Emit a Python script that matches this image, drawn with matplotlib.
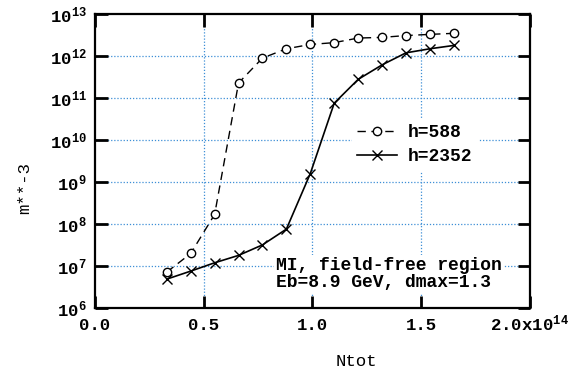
import matplotlib
matplotlib.use('Agg')
import matplotlib.pyplot as plt
from matplotlib.ticker import FixedLocator

# ---- data ----
ntot = [0.33, 0.44, 0.55, 0.66, 0.77, 0.88, 0.99, 1.10, 1.21, 1.32, 1.43, 1.54, 1.65]   # x 1e14
h588 = [7.2e6, 2.0e7, 1.7e8, 2.3e11, 9.0e11, 1.5e12, 1.9e12, 2.1e12, 2.7e12, 2.8e12, 3.1e12, 3.3e12, 3.5e12]
h2352 = [4.9e6, 7.6e6, 1.2e7, 1.8e7, 3.2e7, 7.6e7, 1.6e9, 7.6e10, 2.8e11, 6.2e11, 1.2e12, 1.5e12, 1.8e12]

xticks = [0.0, 0.5, 1.0, 1.5, 2.0]
xticklabels = ['0.0', '0.5', '1.0', '1.5', r'2.0x10$^{14}$']
ydec = [6, 7, 8, 9, 10, 11, 12, 13]

plt.rcParams['font.family'] = ['Liberation Mono', 'DejaVu Sans Mono']
plt.rcParams['font.weight'] = 'bold'
plt.rcParams['mathtext.fontset'] = 'custom'
plt.rcParams['mathtext.rm'] = 'Liberation Mono:bold'
plt.rcParams['mathtext.it'] = 'Liberation Mono:bold'

fig = plt.figure(figsize=(5.76, 3.73), dpi=100)
ax = fig.add_axes([0.165, 0.174, 0.755, 0.788])

gridc = '#3d8fd6'
for x in xticks[1:-1]:
    ax.axvline(x, color=gridc, lw=0.9, ls=(0, (1, 1.5)), zorder=0)
for d in ydec[1:-1]:
    ax.axhline(10.0**d, color=gridc, lw=0.9, ls=(0, (1, 1.5)), zorder=0)

ax.plot(ntot, h588, color='black', lw=1.0, ls=(0, (6, 4)), marker='o', ms=6,
        mfc='white', mec='black', mew=1.0, label='h=588', zorder=3)
ax.plot(ntot, h2352, color='black', lw=1.2, marker='x', ms=7, mew=1.0,
        label='h=2352', zorder=3)

ax.set_yscale('log')
ax.set_xlim(0, 2.0)
ax.set_ylim(1e6, 1e13)
ax.xaxis.set_major_locator(FixedLocator(xticks))
ax.set_xticklabels(xticklabels)
ax.yaxis.set_major_locator(FixedLocator([10.0**d for d in ydec]))
ax.set_yticklabels(['10$^{%d}$' % d for d in ydec])
ax.yaxis.set_minor_locator(FixedLocator([]))
ax.tick_params(which='major', direction='in', length=9, width=2.0,
               top=True, right=True, labelsize=12.5, pad=6)
ax.tick_params(axis='x', pad=16)
for lab in ax.get_xticklabels():
    lab.set_verticalalignment('baseline')
for s in ax.spines.values():
    s.set_linewidth(1.6)

ax.set_xlabel('Ntot', fontsize=12.5)
ax.xaxis.set_label_coords(0.6, -0.155)
ax.set_ylabel('m**-3', fontsize=12.5)
ax.yaxis.set_label_coords(-0.145, 0.41)

leg = ax.legend(loc='upper left', bbox_to_anchor=(0.59, 0.645), frameon=True,
                fancybox=False, edgecolor='white', facecolor='white', framealpha=1,
                fontsize=13, handlelength=2.2, handletextpad=0.6,
                labelspacing=0.4, borderpad=0.3, borderaxespad=0)
leg.set_zorder(4)

ax.text(0.415, 0.175, 'MI, field-free region\nEb=8.9 GeV, dmax=1.3',
        transform=ax.transAxes, fontsize=13, va='top', ha='left',
        linespacing=1.05, zorder=4,
        bbox=dict(facecolor='white', edgecolor='none', pad=1))

fig.savefig('out.png', dpi=100)
